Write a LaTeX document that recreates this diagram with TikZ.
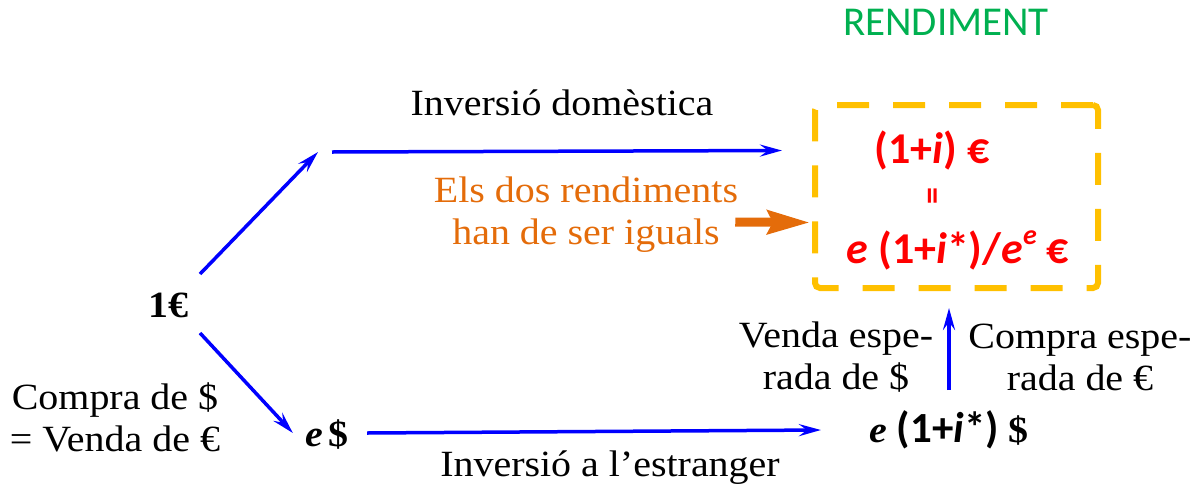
\documentclass[tikz,border=0pt]{standalone}
\usepackage{fontspec}
\setmainfont{Liberation Serif}[FakeStretch=1.08]
\newfontfamily\calfont{Carlito}
\usetikzlibrary{arrows.meta}
\definecolor{myblue}{RGB}{0,0,255}
\definecolor{myorange}{RGB}{228,108,10}
\definecolor{mygold}{RGB}{255,192,0}
\definecolor{mygreen}{RGB}{0,176,80}
\definecolor{myred}{RGB}{255,0,0}
\begin{document}
\begin{tikzpicture}[x=1pt,y=-1pt,
  txt/.style={font=\fontsize{37}{42}\selectfont, inner sep=0pt, align=center},
  redtxt/.style={txt, text=myred, font=\calfont\bfseries\fontsize{44}{44}\selectfont},
  blu/.style={draw=myblue, line width=3.5pt, -{Stealth[length=22pt,width=12pt,inset=8pt]}},
  orng/.style={draw=myorange, line width=9pt, -{Stealth[length=42pt,width=23pt,inset=5pt]}},
  goldbox/.style={draw=mygold, line width=6pt, rounded corners=5pt, dash pattern=on 32pt off 24pt, minimum width=283pt, minimum height=183pt, inner sep=0pt}]
\useasboundingbox (0,0) rectangle (1202,488);
\node[txt, text=mygreen, font=\calfont\fontsize{41}{42}\selectfont] (rend) at (946,22) {RENDIMENT};
\node[goldbox] (box) at (956.5,196.5) {};
\node[redtxt] (r1) at (932,150) {(1+\textit{i}) €};
\node[redtxt, font=\calfont\bfseries\fontsize{34}{34}\selectfont] (r2) at (936,196) {\rotatebox{90}{=}};
\node[redtxt] (r3) at (958,250) {\textit{e} (1+\textit{i}*)/\textit{e}\raisebox{0.42em}{\fontsize{28}{28}\selectfont\textit{e}} €};
\node[txt] (one) at (168,305) {\textbf{1€}};
\node[txt] (edollar) at (327,435) {\textbf{\textit{e}\,\$}};
\node[txt] (final) at (949,430) {\textbf{\textit{e}} {\calfont\bfseries\fontsize{43}{43}\selectfont (1+\textit{i}*)} \textbf{\$}};
\node[txt] (dom) at (562,103) {Inversió domèstica};
\node[txt] (est) at (610,468) {Inversió a l’estranger};
\node[txt] (compra) at (115,417) {Compra de \$\\= Venda de €};
\node[txt, text=myorange] (iguals) at (586,215) {Els dos rendiments\\han de ser iguals};
\node[txt] (venda) at (836,357) {Venda espe-\\rada de \$};
\node[txt] (compra2) at (1080,357) {Compra espe-\\rada de €};
\coordinate (tl) at (318,152);
\coordinate (tr) at (332,152);
\coordinate (start1) at (200,274);
\coordinate (start2) at (200,333);
\draw[blu] (start1) -- (tl);
\draw[blu] (tr) -- ([xshift=-30pt,yshift=46pt]box.west);
\draw[blu] (start2) -- ([xshift=-12pt,yshift=2pt]edollar.west);
\draw[blu] ([xshift=18pt,yshift=2pt]edollar.east) -- ([xshift=-48pt]final.west);
\draw[blu] (final.north |- 0,390) -- ([yshift=-17pt]final.north |- box.south);
\draw[orng] ([xshift=-3pt,yshift=-7pt]iguals.east) -- ([xshift=-2pt,yshift=-26pt]box.west);
\end{tikzpicture}
\end{document}
